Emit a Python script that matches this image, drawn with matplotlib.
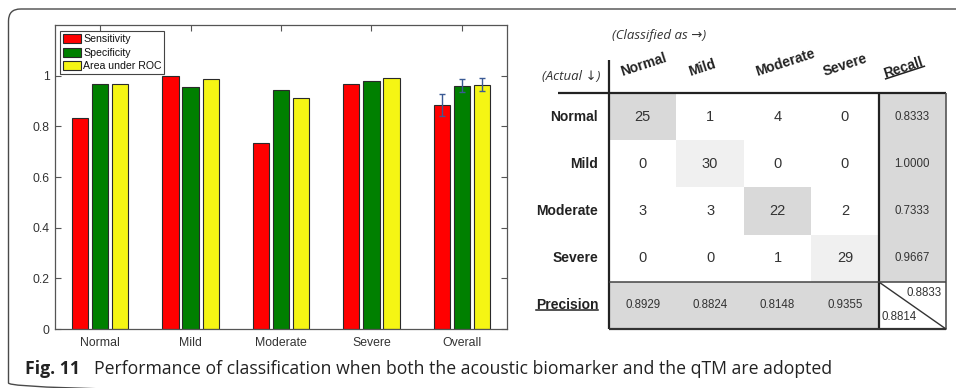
import numpy as np
import matplotlib
matplotlib.use("Agg")
import matplotlib.pyplot as plt
from matplotlib.patches import Rectangle, FancyBboxPatch
from matplotlib.lines import Line2D
from matplotlib.transforms import IdentityTransform

W, H, DPI = 956, 388, 100

# ---- bar chart data ----
categories = ["Normal", "Mild", "Moderate", "Severe", "Overall"]
series_names = ["Sensitivity", "Specificity", "Area under ROC"]
sensitivity = [0.8333, 1.0000, 0.7333, 0.9667, 0.8833]
specificity = [0.9667, 0.9556, 0.9444, 0.9778, 0.9611]
auc_roc = [0.968, 0.987, 0.912, 0.991, 0.965]
overall_err = [0.043, 0.027, 0.025]
ytick_values = [0, 0.2, 0.4, 0.6, 0.8, 1.0]
ytick_labels = ["0", "0.2", "0.4", "0.6", "0.8", "1"]

# ---- confusion matrix data ----
classes = ["Normal", "Mild", "Moderate", "Severe"]
confusion = [[25, 1, 4, 0],
             [0, 30, 0, 0],
             [3, 3, 22, 2],
             [0, 0, 1, 29]]
recall = ["0.8333", "1.0000", "0.7333", "0.9667"]
precision = ["0.8929", "0.8824", "0.8148", "0.9355"]
overall_recall = "0.8833"
overall_precision = "0.8814"
diag_shades = ["#d9d9d9", "#f0f0f0", "#d9d9d9", "#f0f0f0"]

caption_label = "Fig. 11"
caption_text = ("Performance of classification when both the acoustic "
                "biomarker and the qTM are adopted")

plt.rcParams["font.family"] = ["Liberation Sans", "DejaVu Sans"]

fig = plt.figure(figsize=(W / DPI, H / DPI), dpi=DPI, facecolor="white")


def px_rect(x0, y0, x1, y1):
    return [x0 / W, 1 - y1 / H, (x1 - x0) / W, (y1 - y0) / H]


# background layer in pixel units (y downwards) for the panel frame
bg = fig.add_axes([0, 0, 1, 1], zorder=-5)
bg.set_xlim(0, W)
bg.set_ylim(H, 0)
bg.axis("off")
bg.add_patch(FancyBboxPatch((8.5, 9), 1100, 386,
                            boxstyle="round,pad=0,rounding_size=12",
                            fill=False, edgecolor="#4a4a4a", linewidth=1.0))

# ---------------- grouped bar chart ----------------
ax = fig.add_axes(px_rect(55, 25, 507, 329))
x = np.arange(1, len(categories) + 1)
offsets = [-0.222, 0.0, 0.222]
bar_w = 0.18
colors = ["#ff0000", "#008000", "#f5f514"]
for vals, off, col, name in zip([sensitivity, specificity, auc_roc],
                                offsets, colors, series_names):
    ax.bar(x + off, vals, bar_w, color=col, edgecolor="#2a2a2a",
           linewidth=0.8, label=name, zorder=2)

overall_vals = [sensitivity[-1], specificity[-1], auc_roc[-1]]
ax.errorbar(x[-1] + np.array(offsets), overall_vals, yerr=overall_err,
            fmt="none", ecolor="#3b5a94", elinewidth=1.0, capsize=2.3,
            capthick=1.0, zorder=3)

ax.set_xlim(0.5, 5.5)
ax.set_ylim(0, 1.2)
ax.set_xticks(x, categories)
ax.set_yticks(ytick_values, ytick_labels)
ax.tick_params(direction="in", top=True, right=True, length=4, width=0.8,
               color="#555555", labelcolor="#333333", labelsize=8.8)
ax.tick_params(axis="x", pad=6)
ax.tick_params(axis="y", pad=4)
for s in ax.spines.values():
    s.set_color("#555555")
    s.set_linewidth(0.9)

leg = ax.legend(loc="upper left", bbox_to_anchor=(0.011, 0.98),
                prop={"family": "Liberation Sans", "size": 7.6},
                handlelength=1.75, handleheight=0.95, handletextpad=0.15,
                labelspacing=0.32, borderpad=0.28, borderaxespad=0,
                frameon=True, fancybox=False, edgecolor="#444444",
                framealpha=1)
leg.get_frame().set_linewidth(0.8)
for t in leg.get_texts():
    t.set_color("#111111")

# ---------------- confusion matrix table ----------------
tb = fig.add_axes(px_rect(609, 93, 946, 329))
tb.set_xlim(0, 5)
tb.set_ylim(5, 0)
tb.axis("off")

num_kw = dict(ha="center", va="center", family="Liberation Sans",
              color="#333333")
for i in range(4):
    for j in range(4):
        if i == j:
            tb.add_patch(Rectangle((j, i), 1, 1, facecolor=diag_shades[i],
                                   edgecolor="none"))
        tb.text(j + 0.5, i + 0.5, str(confusion[i][j]), fontsize=10.5,
                **num_kw)
    tb.add_patch(Rectangle((4, i), 1, 1, facecolor="#d9d9d9",
                           edgecolor="none"))
    tb.text(4.5, i + 0.5, recall[i], fontsize=8.3, **num_kw)
    tb.add_patch(Rectangle((i, 4), 1, 1, facecolor="#d9d9d9",
                           edgecolor="none"))
    tb.text(i + 0.5, 4.5, precision[i], fontsize=8.3, **num_kw)

# overall cell with a diagonal split
tb.plot([4, 5], [4, 5], color="#333333", lw=1.0, clip_on=False)
tb.text(4.93, 4.24, overall_recall, ha="right", va="center",
        family="Liberation Sans", fontsize=8.3, color="#333333")
tb.text(4.05, 4.75, overall_precision, ha="left", va="center",
        family="Liberation Sans", fontsize=8.3, color="#333333")

line_kw = dict(clip_on=False, solid_capstyle="butt")
tb.plot([0, 0], [-0.70, 5], color="#222222", lw=1.6, **line_kw)
tb.plot([-0.757, 5], [0, 0], color="#222222", lw=1.6, **line_kw)
tb.plot([4, 4], [0, 5], color="#222222", lw=1.6, **line_kw)
tb.plot([5, 5], [0, 5], color="#555555", lw=1.2, **line_kw)
tb.plot([0, 5], [5, 5], color="#333333", lw=1.6, **line_kw)
tb.plot([0, 5], [4, 4], color="#444444", lw=1.1, **line_kw)

label_kw = dict(family="Liberation Sans", fontweight="bold", fontsize=10,
                color="#222222")
for i, name in enumerate(classes):
    tb.text(-0.16, i + 0.5, name, ha="right", va="center", **label_kw)
prec_label = tb.text(-0.16, 4.5, "Precision", ha="right", va="center",
                     **label_kw)

header_rot = 18
for j, name in enumerate(classes):
    tb.text(j + 0.2, -0.36, name, ha="left", va="baseline",
            rotation=header_rot, rotation_mode="anchor", **label_kw)
recall_label = tb.text(4.1, -0.32, "Recall", ha="left", va="baseline",
                       rotation=header_rot, rotation_mode="anchor",
                       **label_kw)

note_kw = dict(family=["Open Sans", "DejaVu Sans"], style="italic",
               fontsize=9.5, color="#333333")
tb.text(-0.134, -0.36, "(Actual \u2193)", ha="right", va="center", **note_kw)
tb.text(0.045, -1.21, "(Classified as \u2192)", ha="left", va="center",
        **note_kw)

# ---------------- caption ----------------
cap_kw = dict(family=["Open Sans", "DejaVu Sans"], fontsize=12.7,
              color="#222222", va="baseline")
cap_bold = fig.text(25 / W, 14 / H, caption_label, fontweight="bold", **cap_kw)

fig.canvas.draw()
renderer = fig.canvas.get_renderer()

bb = cap_bold.get_window_extent(renderer)
fig.text((bb.x1 + 14) / W, 14 / H, caption_text, **cap_kw)


def underline(text_artist, angle_deg):
    """Draw an underline below a (possibly rotated) text artist."""
    text_artist.set_rotation(0)
    box = text_artist.get_window_extent(renderer)
    text_artist.set_rotation(angle_deg)
    px, py = text_artist.get_transform().transform(text_artist.get_position())
    yoff = box.y0 + 2.0 - py
    pts = np.array([[box.x0 - px, yoff], [box.x1 - px, yoff]])
    th = np.deg2rad(angle_deg)
    rot = np.array([[np.cos(th), -np.sin(th)], [np.sin(th), np.cos(th)]])
    pts = pts @ rot.T + np.array([px, py])
    fig.add_artist(Line2D(pts[:, 0], pts[:, 1], transform=IdentityTransform(),
                          color="#222222", lw=1.1))


underline(prec_label, 0)
underline(recall_label, header_rot)

fig.savefig("out.png", dpi=DPI, facecolor="white")
